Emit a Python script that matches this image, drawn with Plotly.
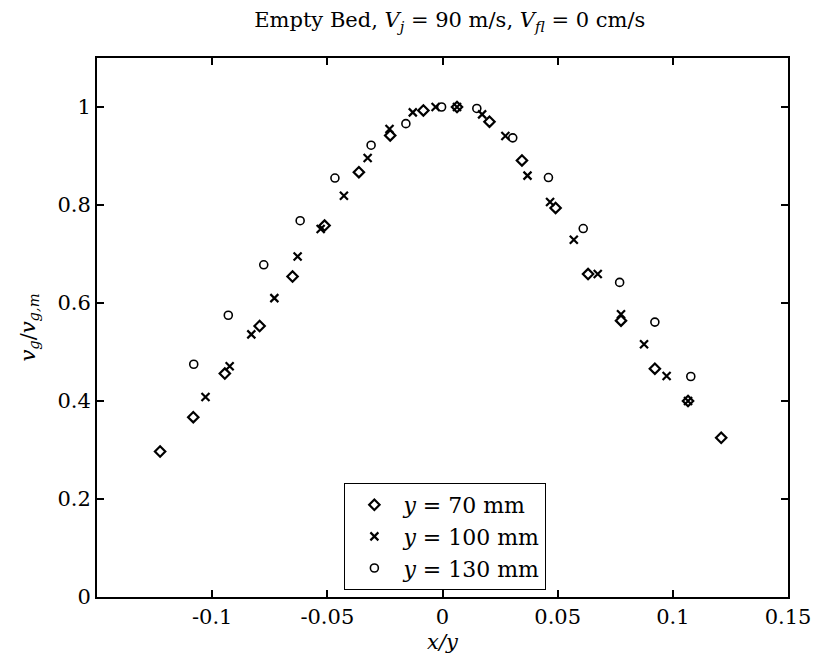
import plotly.graph_objects as go

# y = 70 mm (diamonds)
x70 = [-0.1226, -0.1082, -0.0945, -0.0794, -0.0651, -0.0512, -0.0363, -0.0227, -0.0083,
       0.0063, 0.0204, 0.0345, 0.0491, 0.0632, 0.0775, 0.0922, 0.1066, 0.121]
v70 = [0.297, 0.367, 0.456, 0.553, 0.654, 0.758, 0.867, 0.942, 0.993,
       1.0, 0.970, 0.891, 0.794, 0.659, 0.564, 0.466, 0.400, 0.325]

# y = 100 mm (crosses)
x100 = [-0.1029, -0.0924, -0.083, -0.0730, -0.0629, -0.0529, -0.0428, -0.0325, -0.0230, -0.0129,
        -0.0030, 0.0063, 0.0172, 0.0273, 0.0369, 0.0467, 0.0570, 0.0674, 0.0775, 0.0875, 0.0973, 0.1066]
v100 = [0.408, 0.471, 0.536, 0.610, 0.695, 0.751, 0.819, 0.896, 0.955, 0.989,
        1.0, 1.0, 0.985, 0.941, 0.860, 0.806, 0.729, 0.659, 0.577, 0.516, 0.451, 0.400]

# y = 130 mm (circles)
x130 = [-0.108, -0.093, -0.0776, -0.0618, -0.0467, -0.0310, -0.0159, -0.0004,
        0.0149, 0.0305, 0.0460, 0.0611, 0.0769, 0.0922, 0.1078]
v130 = [0.475, 0.575, 0.678, 0.768, 0.855, 0.922, 0.966, 1.0,
        0.997, 0.937, 0.856, 0.752, 0.642, 0.561, 0.450]

xticks = [-0.1, -0.05, 0, 0.05, 0.1, 0.15]
xticklabels = ["-0.1", "-0.05", "0", "0.05", "0.1", "0.15"]
yticks = [0, 0.2, 0.4, 0.6, 0.8, 1.0]
yticklabels = ["0", "0.2", "0.4", "0.6", "0.8", "1"]

FONT = "DejaVu Serif"

fig = go.Figure()
fig.add_trace(go.Scatter(x=x70, y=v70, mode="markers", name="<i>y</i> = 70 mm",
                         marker=dict(symbol="diamond-open", size=8, color="black",
                                     line=dict(width=2.2, color="black"))))
fig.add_trace(go.Scatter(x=x100, y=v100, mode="markers", name="<i>y</i> = 100 mm",
                         marker=dict(symbol="x-thin-open", size=8, color="black",
                                     line=dict(width=2.2, color="black"))))
fig.add_trace(go.Scatter(x=x130, y=v130, mode="markers", name="<i>y</i> = 130 mm",
                         marker=dict(symbol="circle-open", size=8, color="black",
                                     line=dict(width=1.6, color="black"))))

axis_common = dict(showgrid=False, zeroline=False, showline=True, linecolor="black",
                   linewidth=2, mirror="ticks", ticks="inside", ticklen=7,
                   tickwidth=1.5, tickcolor="black",
                   tickfont=dict(family=FONT, size=21, color="black"))

fig.update_xaxes(range=[-0.15, 0.15], tickvals=xticks, ticktext=xticklabels,
                 title=dict(text="<i>x/y</i>", font=dict(family=FONT, size=21, color="black"),
                            standoff=6),
                 **axis_common)
fig.update_yaxes(range=[0, 1.1], tickvals=yticks, ticktext=yticklabels,
                 title=dict(text="<i>v</i><sub><i>g</i></sub>/<i>v</i><sub><i>g,m</i></sub>",
                            font=dict(family=FONT, size=21, color="black"), standoff=16),
                 **axis_common)

fig.update_layout(
    width=815, height=655,
    margin=dict(l=89, r=28, t=50, b=66),
    paper_bgcolor="white", plot_bgcolor="white",
    title=dict(text="Empty Bed, <i>V</i><sub><i>j</i></sub> = 90 m/s, <i>V</i><sub><i>fl</i></sub> = 0 cm/s",
               x=0.542, xanchor="center", y=0.982, yanchor="middle",
               font=dict(family=FONT, size=21, color="black")),
    legend=dict(x=0.358, y=0.013, xanchor="left", yanchor="bottom",
                bordercolor="black", borderwidth=1, bgcolor="white",
                font=dict(family=FONT, size=22, color="black"),
                tracegroupgap=0, itemwidth=48),
    showlegend=True,
)

fig.write_html("out.html")
